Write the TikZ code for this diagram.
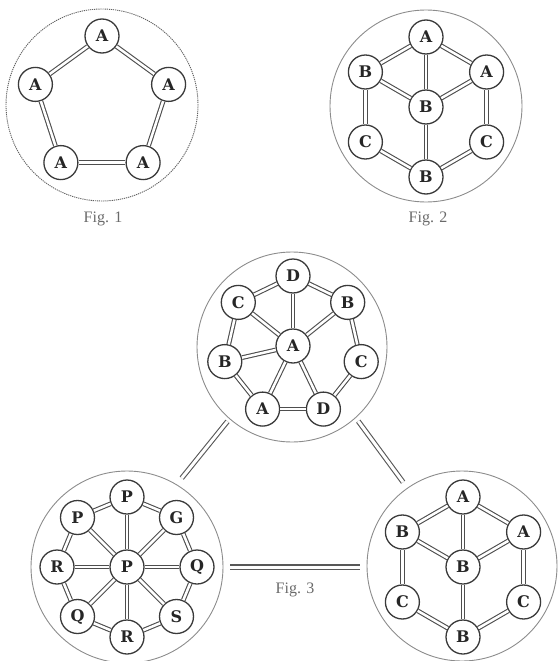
\documentclass[tikz,border=0pt]{standalone}
\usepackage{fontspec}
\setmainfont{Liberation Serif}
\newfontfamily\atomfont{DejaVu Serif}
\definecolor{ink}{HTML}{3A3A3A}
\definecolor{rim}{HTML}{8C8C8C}
\definecolor{cap}{HTML}{6A6A6A}
\begin{document}
\begin{tikzpicture}[x=1pt,y=-1pt,
  atom/.style={circle, draw=ink, line width=1.3pt, fill=white, minimum size=34pt,
    inner sep=0pt, font=\atomfont\bfseries\fontsize{16}{16}\selectfont, text=black!85},
  bond/.style={draw=ink!90, line width=1.1pt, double=white, double distance=2.5pt},
  ring/.style={circle, draw=rim, line width=0.9pt, minimum size=192pt, inner sep=0pt},
  link/.style={draw=ink!85, line width=1.1pt, double=white, double distance=3pt},
  caption/.style={font=\fontsize{16}{16}\selectfont, text=cap}]
\useasboundingbox (0,0) rectangle (558,661);

% ---------- Fig. 1: five-membered ring ----------
\node[ring, draw=ink!80, dash pattern=on 1.2pt off 0.9pt] (r1) at (102,105) {};
\node[atom] (p1) at (102,36) {A};
\node[atom] (p2) at (35.4,84.4) {A};
\node[atom] (p3) at (60.9,162.6) {A};
\node[atom] (p4) at (143.1,162.6) {A};
\node[atom] (p5) at (168.6,84.4) {A};
\draw[bond] (p1) -- (p2);
\draw[bond] (p2) -- (p3);
\draw[bond] (p3) -- (p4);
\draw[bond] (p4) -- (p5);
\draw[bond] (p5) -- (p1);
\node[caption] (c1) at (103,219) {Fig. 1};

% ---------- Fig. 2: hexagon with centre ----------
\node[ring] (r2) at (426,106) {};
\node[atom] (h1) at (426,37) {A};
\node[atom] (h2) at (365.4,72) {B};
\node[atom] (h3) at (486.6,72) {A};
\node[atom] (h4) at (426,107) {B};
\node[atom] (h5) at (365.4,142) {C};
\node[atom] (h6) at (486.6,142) {C};
\node[atom] (h7) at (426,177) {B};
\draw[bond] (h1) -- (h2);
\draw[bond] (h1) -- (h3);
\draw[bond] (h1) -- (h4);
\draw[bond] (h2) -- (h4);
\draw[bond] (h3) -- (h4);
\draw[bond] (h2) -- (h5);
\draw[bond] (h3) -- (h6);
\draw[bond] (h5) -- (h7);
\draw[bond] (h6) -- (h7);
\draw[bond] (h4) -- (h7);
\node[caption] (c2) at (428,219) {Fig. 2};

% ---------- Fig. 3, top: seven-membered ring ----------
\node[ring, minimum size=190pt] (t0) at (292,347) {};
\node[atom] (ta) at (293,346) {A};
\node[atom] (t1) at (293,276) {D};
\node[atom] (t2) at (238.3,302.4) {C};
\node[atom] (t3) at (224.8,361.6) {B};
\node[atom] (t4) at (262.6,409.1) {A};
\node[atom] (t5) at (323.4,409.1) {D};
\node[atom] (t6) at (361.2,361.6) {C};
\node[atom] (t7) at (347.7,302.4) {B};
\draw[bond] (t1) -- (t2);
\draw[bond] (t2) -- (t3);
\draw[bond] (t3) -- (t4);
\draw[bond] (t4) -- (t5);
\draw[bond] (t5) -- (t6);
\draw[bond] (t6) -- (t7);
\draw[bond] (t7) -- (t1);
\draw[bond] (ta) -- (t1);
\draw[bond] (ta) -- (t2);
\draw[bond] (ta) -- (t3);
\draw[bond] (ta) -- (t4);
\draw[bond] (ta) -- (t5);
\draw[bond] (ta) -- (t7);

% ---------- Fig. 3, bottom left: eight-membered ring ----------
\node[ring] (bl) at (127,567) {};
\node[atom] (oc) at (127,567) {P};
\node[atom] (o1) at (127,497) {P};
\node[atom] (o2) at (77.5,517.5) {P};
\node[atom] (o3) at (57,567) {R};
\node[atom] (o4) at (77.5,616.5) {Q};
\node[atom] (o5) at (127,637) {R};
\node[atom] (o6) at (176.5,616.5) {S};
\node[atom] (o7) at (197,567) {Q};
\node[atom] (o8) at (176.5,517.5) {G};
\draw[bond] (o1) -- (o2);
\draw[bond] (o2) -- (o3);
\draw[bond] (o3) -- (o4);
\draw[bond] (o4) -- (o5);
\draw[bond] (o5) -- (o6);
\draw[bond] (o6) -- (o7);
\draw[bond] (o7) -- (o8);
\draw[bond] (o8) -- (o1);
\foreach \k in {1,...,8} \draw[bond] (oc) -- (o\k);

% ---------- Fig. 3, bottom right: hexagon with centre ----------
\node[ring, minimum size=190pt] (br) at (462,566) {};
\node[atom] (k1) at (463,497) {A};
\node[atom] (k2) at (402.4,532) {B};
\node[atom] (k3) at (523.6,532) {A};
\node[atom] (k4) at (463,567) {B};
\node[atom] (k5) at (402.4,602) {C};
\node[atom] (k6) at (523.6,602) {C};
\node[atom] (k7) at (463,637) {B};
\draw[bond] (k1) -- (k2);
\draw[bond] (k1) -- (k3);
\draw[bond] (k1) -- (k4);
\draw[bond] (k2) -- (k4);
\draw[bond] (k3) -- (k4);
\draw[bond] (k2) -- (k5);
\draw[bond] (k3) -- (k6);
\draw[bond] (k5) -- (k7);
\draw[bond] (k6) -- (k7);
\draw[bond] (k4) -- (k7);

% ---------- links between the three rings of Fig. 3 ----------
\draw[link, shorten <=3pt, shorten >=8pt] (t0.229) -- (bl.59.5);
\draw[link, shorten <=4pt, shorten >=7pt] (t0.312.6) -- (br.125.9);
\draw[link, shorten <=7pt, shorten >=7pt] (bl.east) -- (bl.east -| br.west);
\node[caption] (c3) at (295,590) {Fig. 3};
\end{tikzpicture}
\end{document}
